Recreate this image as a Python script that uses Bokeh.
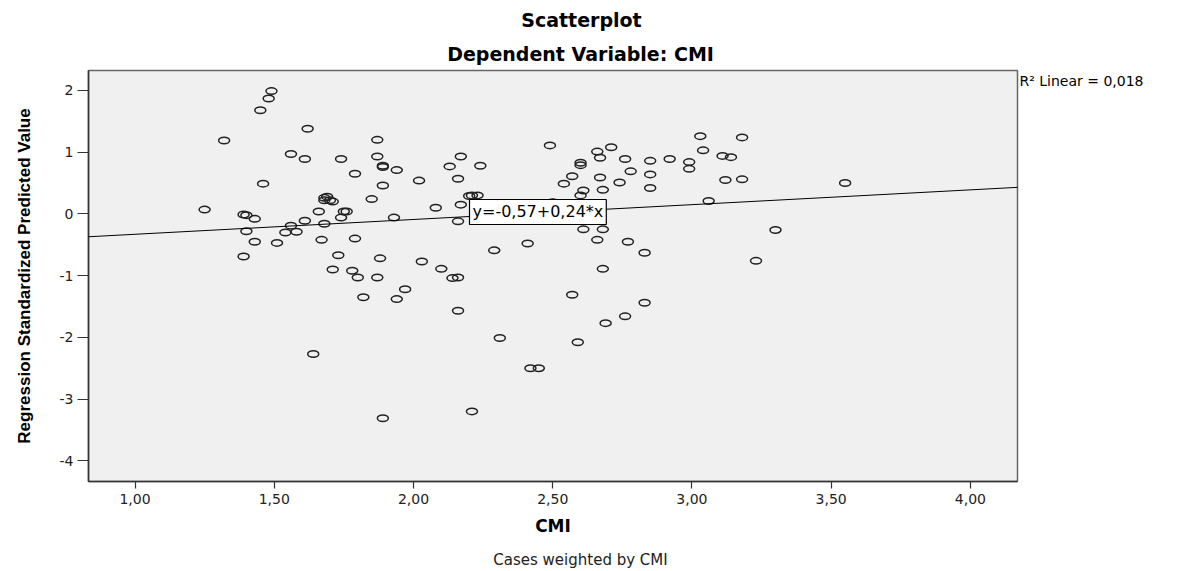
from bokeh.plotting import figure
from bokeh.models import Range1d, FixedTicker, Label, Slope, ColumnDataSource, LinearAxis
from bokeh.embed import file_html
from bokeh.resources import INLINE

# ---- data ----
cmi = [1.49, 1.48, 1.45, 1.62, 1.32, 1.56, 1.61, 1.46, 1.25, 1.39,
       1.40, 1.43, 1.40, 1.43, 1.51, 1.39, 1.54, 1.56, 1.58, 1.61,
       1.66, 1.67, 1.68, 1.64, 1.74, 1.87, 1.87, 1.89, 1.89, 1.94,
       1.79, 1.89, 2.02, 2.17, 2.13, 2.24, 2.16, 2.20, 2.21, 2.23,
       2.17, 2.08, 2.16, 1.93, 1.85, 1.68, 1.69, 1.68, 1.70, 1.71,
       1.75, 1.76, 1.74, 1.79, 1.73, 1.88, 2.03, 2.10, 2.29, 2.41,
       1.71, 1.78, 1.80, 1.87, 2.14, 2.16, 1.97, 1.82, 1.94, 2.16,
       2.31, 2.42, 2.45, 1.89, 2.21, 2.49, 2.66, 2.71, 2.67, 2.60,
       2.60, 2.76, 2.85, 2.92, 2.99, 2.99, 3.03, 3.04, 3.11, 3.14,
       3.18, 3.12, 3.18, 2.57, 2.67, 2.78, 2.85, 2.74, 2.54, 2.61,
       2.68, 2.85, 2.60, 2.50, 3.06, 2.61, 2.68, 2.66, 2.77, 2.83,
       2.68, 3.23, 2.57, 2.83, 2.76, 2.69, 2.59, 3.55, 3.30]
pred = [1.99, 1.87, 1.68, 1.38, 1.19, 0.97, 0.89, 0.49, 0.07, -0.01,
        -0.02, -0.08, -0.28, -0.45, -0.47, -0.69, -0.30, -0.19, -0.29, -0.11,
        0.04, -0.42, -0.16, -2.27, 0.89, 1.20, 0.93, 0.78, 0.76, 0.71,
        0.65, 0.46, 0.54, 0.93, 0.77, 0.78, 0.57, 0.29, 0.30, 0.30,
        0.15, 0.10, -0.12, -0.06, 0.24, 0.26, 0.28, 0.22, 0.22, 0.20,
        0.04, 0.04, -0.06, -0.40, -0.67, -0.72, -0.77, -0.89, -0.59, -0.48,
        -0.90, -0.92, -1.03, -1.03, -1.04, -1.03, -1.22, -1.35, -1.38, -1.57,
        -2.01, -2.50, -2.50, -3.31, -3.20, 1.11, 1.01, 1.08, 0.91, 0.83,
        0.79, 0.89, 0.86, 0.89, 0.84, 0.73, 1.26, 1.03, 0.94, 0.92,
        1.24, 0.55, 0.56, 0.61, 0.59, 0.69, 0.64, 0.51, 0.49, 0.38,
        0.39, 0.42, 0.30, 0.19, 0.21, -0.25, -0.25, -0.42, -0.45, -0.63,
        -0.89, -0.76, -1.31, -1.44, -1.66, -1.77, -2.08, 0.50, -0.26]

fit_intercept = -0.57
fit_slope = 0.24
r_squared = 0.018

x_ticks = [1.0, 1.5, 2.0, 2.5, 3.0, 3.5, 4.0]
x_tick_labels = ["1,00", "1,50", "2,00", "2,50", "3,00", "3,50", "4,00"]
y_ticks = [-4, -3, -2, -1, 0, 1, 2]
y_tick_labels = ["-4", "-3", "-2", "-1", "0", "1", "2"]

title_text = "Scatterplot"
subtitle_text = "Dependent Variable: CMI"
x_label = "CMI"
y_label = "Regression Standardized Predicted Value"
footer_text = "Cases weighted by CMI"

# ---- layout (page is drawn at the window origin) ----
W, H = 1185, 571
FL, FR, FT, FB = 88, 168, 70, 90
FW = W - FL - FR
FH = H - FT - FB
X0, X1 = 0.833, 4.169
Y0, Y1 = -4.336, 2.324

def fx(px):
    return round(X0 + (px - FL) / FW * (X1 - X0), 4)

def fy(py):
    return round(Y1 - (py - FT) / FH * (Y1 - Y0), 4)

p = figure(width=W, height=H, output_backend="svg", toolbar_location=None,
           x_range=Range1d(X0, X1), y_range=Range1d(Y0, Y1),
           min_border_left=FL, min_border_right=FR,
           min_border_top=FT, min_border_bottom=FB)
p.background_fill_color = "#f0f0f0"
p.border_fill_color = "white"
p.outline_line_color = "#666666"
p.outline_line_width = 1.5
p.xgrid.visible = False
p.ygrid.visible = False

HFONT = "DejaVu Sans"

p.xaxis.ticker = FixedTicker(ticks=x_ticks)
p.xaxis.major_label_overrides = {t: l for t, l in zip(x_ticks, x_tick_labels)}
p.yaxis.ticker = FixedTicker(ticks=y_ticks)
p.yaxis.major_label_overrides = {t: l for t, l in zip(y_ticks, y_tick_labels)}
for ax in (p.xaxis, p.yaxis):
    ax.minor_tick_line_color = None
    ax.major_tick_in = 0
    ax.axis_line_color = "#333333"
    ax.axis_line_width = 1.5
    ax.major_tick_line_color = "#333333"
    ax.major_tick_line_width = 1.2
    ax.major_label_text_font = HFONT
    ax.major_label_text_font_size = "14px"
    ax.major_label_text_color = "#222222"
p.xaxis.major_tick_out = 7
p.yaxis.major_tick_out = 11
p.xaxis.major_label_standoff = 5
p.yaxis.major_label_standoff = 4

p.xaxis.axis_label = x_label
p.xaxis.axis_label_text_font = HFONT
p.xaxis.axis_label_text_font_style = "bold"
p.xaxis.axis_label_text_font_size = "17px"
p.xaxis.axis_label_standoff = 9
p.xaxis.axis_label_text_color = "black"

p.yaxis.axis_label = y_label
p.yaxis.axis_label_text_font = "Liberation Sans"
p.yaxis.axis_label_text_font_style = "bold"
p.yaxis.axis_label_text_font_size = "17px"
p.yaxis.axis_label_standoff = 23
p.yaxis.axis_label_text_color = "black"

src = ColumnDataSource(dict(x=cmi, y=pred))
p.ellipse(x="x", y="y", width=11, height=6.5, width_units="screen",
          height_units="screen", source=src, fill_color=None,
          line_color="#222222", line_width=1.5)

p.add_layout(Slope(gradient=fit_slope, y_intercept=fit_intercept,
                   line_color="black", line_width=1))

def fmt(v):
    return ("%.2f" % v).replace(".", ",")

eq_text = "y=%s+%s*x" % (fmt(fit_intercept), fmt(fit_slope))
p.add_layout(Label(x=fx(469), y=fy(211.5), text=eq_text, text_align="left",
                   text_baseline="middle", text_font=HFONT,
                   text_font_size="16px", text_color="black",
                   background_fill_color="white", border_line_color="black",
                   border_line_width=1.2, padding=3))


def text_axis(pos, text, size, bold=False, standoff=0, color="black"):
    ax = LinearAxis(ticker=FixedTicker(ticks=[pos]),
                    major_label_overrides={pos: text},
                    axis_line_color=None, major_tick_line_color=None,
                    minor_tick_line_color=None, major_tick_out=0,
                    major_tick_in=0, major_label_standoff=standoff)
    ax.major_label_text_font = HFONT
    ax.major_label_text_font_size = size
    ax.major_label_text_font_style = "bold" if bold else "normal"
    ax.major_label_text_color = color
    return ax

# subtitle nearest the frame, then the title above it
p.add_layout(text_axis(fx(580), subtitle_text, "19px", True, 6), "above")
p.add_layout(text_axis(fx(581), title_text, "19px", True, 9), "above")
# footer under the x axis
p.add_layout(text_axis(fx(580), footer_text, "15px", False, 12, "#222222"), "below")
# R squared note to the right of the frame
r2_text = "R\u00b2 Linear = " + ("%.3f" % r_squared).replace(".", ",")
p.add_layout(text_axis(fy(81), r2_text, "14px", False, 2), "right")

open("out.html", "w").write(file_html(p, INLINE))
